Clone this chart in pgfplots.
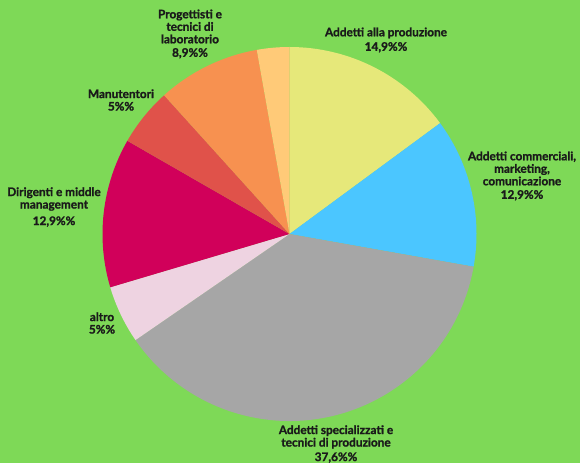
\documentclass[border=0pt]{standalone}
\usepackage{pgfplots}
\usepackage{pgfplotstable}
\usepackage{fontspec}
\setmainfont{Lato}[BoldFont={Lato Bold}, BoldFeatures={FakeBold=1.2}]
\pgfplotsset{compat=1.18}

\definecolor{bg}{HTML}{7ED957}
\definecolor{cA}{HTML}{E6E87A}
\definecolor{cB}{HTML}{4BC6FF}
\definecolor{cC}{HTML}{A6A6A6}
\definecolor{cD}{HTML}{EED3E1}
\definecolor{cE}{HTML}{D1005A}
\definecolor{cF}{HTML}{E0524A}
\definecolor{cG}{HTML}{F79150}
\definecolor{cH}{HTML}{FFCA78}
\definecolor{txt}{HTML}{1A1A1A}

% shares, clockwise from 12 o'clock
\pgfplotstableread{
value color
14.9 cA
12.9 cB
37.6 cC
5.0 cD
12.9 cE
5.0 cF
8.9 cG
2.8 cH
}\piedata

\begin{document}
\begin{tikzpicture}
% cumulative angles
\xdef\angacc{90}
\foreach \i in {0,...,7}{
  \pgfplotstablegetelem{\i}{value}\of\piedata
  \pgfmathsetmacro\endang{\angacc-3.6*\pgfplotsretval}
  \expandafter\xdef\csname ps\i\endcsname{\angacc}
  \expandafter\xdef\csname pe\i\endcsname{\endang}
  \pgfplotstablegetelem{\i}{color}\of\piedata
  \expandafter\xdef\csname pc\i\endcsname{\pgfplotsretval}
  \xdef\angacc{\endang}
}
\begin{axis}[
    hide axis,
    x=1pt, y=1pt,
    xmin=0, xmax=580,
    ymin=0, ymax=463,
    clip=false,
]
\fill[bg] (rel axis cs:0,0) rectangle (rel axis cs:1,1);
\pgfplotsinvokeforeach{0,...,7}{
  \fill[\csname pc#1\endcsname] (axis cs:289.5,229) -- ++(\csname ps#1\endcsname:187pt)
    arc[start angle=\csname ps#1\endcsname, end angle=\csname pe#1\endcsname, radius=187pt] -- cycle;
}
\tikzset{lbl/.style={align=center, font=\fontsize{11.8}{12.5}\selectfont\bfseries, text=txt, inner sep=0pt}}
\node[lbl] at (axis cs:386,423) {Addetti alla produzione\\[2pt]14,9\%\%};
\node[lbl] at (axis cs:522,287) {Addetti commerciali,\\marketing,\\comunicazione\\[1pt]12,9\%\%};
\node[lbl] at (axis cs:336,19) {Addetti specializzati e\\tecnici di produzione\\[2pt]37,6\%\%};
\node[lbl] at (axis cs:102,140) {altro\\5\%\%};
\node[lbl] at (axis cs:54,256) {Dirigenti e middle\\management\\[4pt]12,9\%\%};
\node[lbl] at (axis cs:121,363) {Manutentori\\5\%\%};
\node[lbl] at (axis cs:190,429) {Progettisti e\\tecnici di\\laboratorio\\[1pt]8,9\%\%};
\end{axis}
\end{tikzpicture}
\end{document}
